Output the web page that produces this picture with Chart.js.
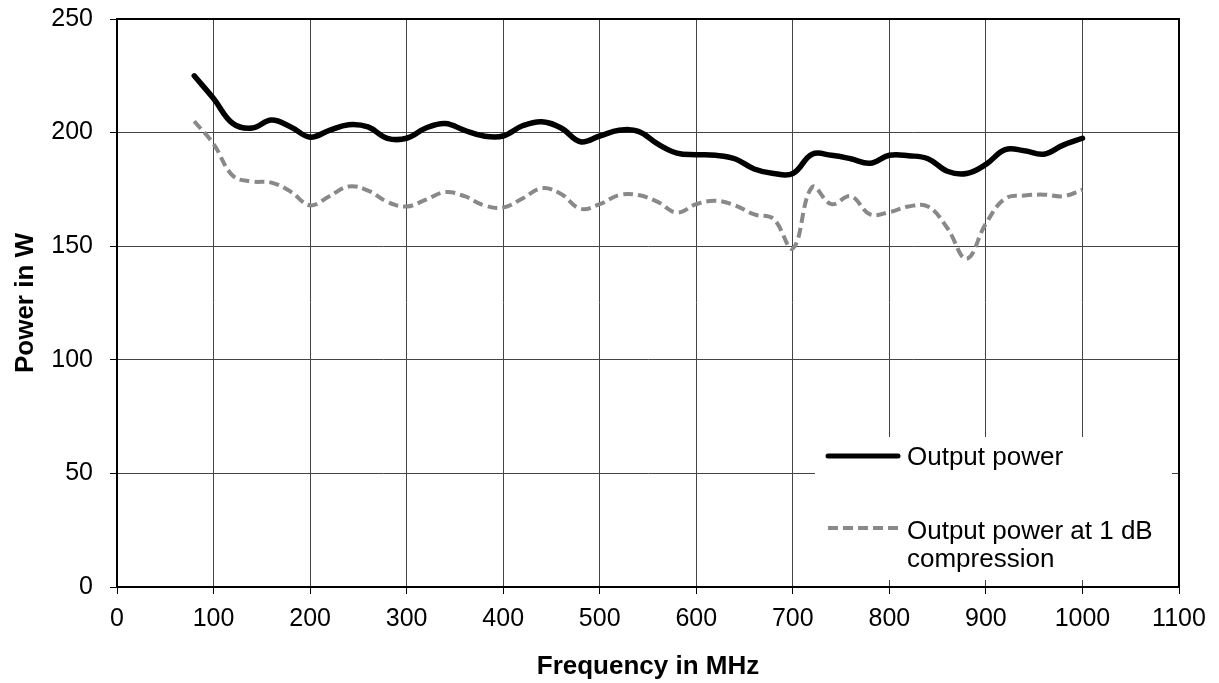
<!DOCTYPE html>
<html>
<head>
<meta charset="utf-8">
<script src="https://cdn.jsdelivr.net/npm/chart.js@4"></script>
<style>
  html, body { margin: 0; padding: 0; background: #fff; }
  #wrap { width: 1219px; height: 683px; }
</style>
</head>
<body>
<div id="wrap"><canvas id="powerChart"></canvas></div>
<script>
// frequency points (MHz)
const freqMHz = [80, 100, 120, 140, 160, 180, 200, 220, 240, 260, 280, 300, 320, 340, 360, 380,
    400, 420, 440, 460, 480, 500, 520, 540, 560, 580, 600, 620, 640, 660, 680, 700,
    720, 740, 760, 780, 800, 820, 840, 860, 880, 900, 920, 940, 960, 980, 1000];

const outputPower = [225, 215, 204, 202, 205.5, 202.5, 198, 201, 203.5, 202.5, 197.5, 197.5, 202, 204, 201, 198.5,
    198.5, 203, 204.8, 202, 196, 198.5, 201, 200.5, 195, 191, 190.3, 190, 188.5, 184, 182, 182,
    190.5, 190, 188.5, 186.5, 190, 189.8, 188.5, 183, 182, 186, 192.5, 192, 190.5, 194.5, 197.5];

const compressionPower = [205, 195, 181, 178.5, 178, 174, 168, 172, 176.3, 174.5, 169.5, 167.5, 170.5, 173.8, 172, 168,
    167, 171, 175.5, 173, 166.5, 168.5, 172.5, 172.5, 169.5, 164.8, 168.5, 170, 168, 164, 162, 149,
    176, 168.5, 172, 164, 165, 167.5, 167.5, 158, 144.5, 160, 171, 172.3, 172.7, 172, 174.8];

const seriesNames = ['Output power', 'Output power at 1 dB', 'compression'];
const xTitle = 'Frequency in MHz';
const yTitle = 'Power in W';

const FONT = 'Liberation Sans, Arial, sans-serif';
const GREY = '#898989';
const DASH = [10, 5];

const toPoints = (ys) => freqMHz.map((f, i) => ({ x: f, y: ys[i] }));

// legend box inside the plot, bottom right, like the original
const boxLegend = {
    id: 'boxLegend',
    afterDraw(chart) {
        const { ctx, chartArea } = chart;
        const R = chartArea.right, B = chartArea.bottom;
        ctx.save();
        ctx.fillStyle = '#fff';
        ctx.fillRect(R - 364, B - 150, 357, 143);

        const lx0 = R - 351, lx1 = R - 281, tx = R - 272;
        ctx.lineCap = 'round';
        ctx.strokeStyle = '#000';
        ctx.lineWidth = 5;
        ctx.beginPath();
        ctx.moveTo(lx0, B - 131);
        ctx.lineTo(lx1, B - 131);
        ctx.stroke();

        ctx.strokeStyle = GREY;
        ctx.lineWidth = 4;
        ctx.lineCap = 'butt';
        ctx.setLineDash(DASH);
        ctx.beginPath();
        ctx.moveTo(lx0, B - 59);
        ctx.lineTo(lx1, B - 59);
        ctx.stroke();
        ctx.setLineDash([]);

        ctx.fillStyle = '#000';
        ctx.font = '26px ' + FONT;
        ctx.textBaseline = 'alphabetic';
        ctx.fillText(seriesNames[0], tx, B - 122);
        ctx.fillText(seriesNames[1], tx, B - 48.5);
        ctx.fillText(seriesNames[2], tx, B - 20);

        // right and top edges of the plot frame
        ctx.strokeStyle = '#000';
        ctx.lineWidth = 2;
        ctx.beginPath();
        ctx.moveTo(chartArea.left, chartArea.top);
        ctx.lineTo(R, chartArea.top);
        ctx.lineTo(R, B);
        ctx.stroke();
        ctx.restore();
    }
};

const ctx = document.getElementById('powerChart').getContext('2d');

new Chart(ctx, {
    type: 'scatter',
    data: {
        datasets: [{
            label: seriesNames[0],
            data: toPoints(outputPower),
            showLine: true,
            borderColor: '#000',
            borderWidth: 5.5,
            pointRadius: 0,
            tension: 0.4,
            borderCapStyle: 'round'
        }, {
            label: seriesNames[1] + ' ' + seriesNames[2],
            data: toPoints(compressionPower),
            showLine: true,
            borderColor: GREY,
            borderWidth: 4,
            borderDash: DASH,
            pointRadius: 0,
            tension: 0.4
        }]
    },
    options: {
        responsive: true,
        maintainAspectRatio: false,
        animation: false,
        layout: {
            padding: { top: 19, right: 40, bottom: 0, left: 0 }
        },
        plugins: {
            legend: { display: false },
            tooltip: { enabled: false }
        },
        scales: {
            x: {
                type: 'linear',
                min: 0,
                max: 1100,
                afterFit: (s) => { s.height = 96; s.paddingLeft = 0; s.paddingRight = 0; },
                ticks: {
                    stepSize: 100,
                    color: '#000',
                    padding: 10,
                    callback: (v) => String(v),
                    font: { family: FONT, size: 25 }
                },
                grid: {
                    color: '#444',
                    lineWidth: 1,
                    tickLength: 7,
                    tickColor: '#000'
                },
                border: { color: '#000', width: 2 },
                title: {
                    display: true,
                    text: xTitle,
                    color: '#000',
                    padding: { top: 0, bottom: 1 },
                    font: { family: FONT, size: 26, weight: 'bold' }
                }
            },
            y: {
                min: 0,
                max: 250,
                afterFit: (s) => { s.width = 117; s.paddingTop = 0; s.paddingBottom = 0; },
                ticks: {
                    stepSize: 50,
                    color: '#000',
                    padding: 17,
                    callback: (v) => String(v),
                    font: { family: FONT, size: 25 }
                },
                grid: {
                    color: '#444',
                    lineWidth: 1,
                    tickLength: 7,
                    tickColor: '#000'
                },
                border: { color: '#000', width: 2 },
                title: {
                    display: true,
                    text: yTitle,
                    color: '#000',
                    padding: { top: 10, bottom: 0 },
                    font: { family: FONT, size: 26, weight: 'bold' }
                }
            }
        }
    },
    plugins: [boxLegend]
});
</script>
</body>
</html>
